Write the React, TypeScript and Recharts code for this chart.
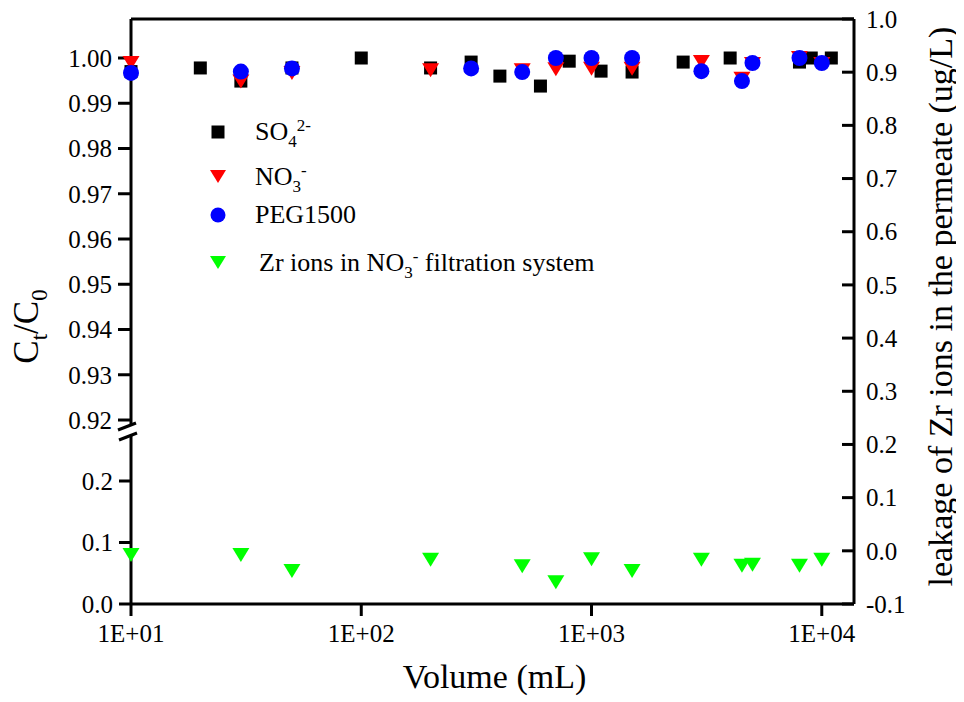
import React from 'react';
import { ScatterChart, Scatter, XAxis, YAxis, ReferenceLine, Legend, Label } from 'recharts';

// volumes (mL) and C/C0
const so4Volume = [10, 20, 30, 50, 100, 200, 300, 400, 600, 800, 1100, 1500, 2500, 4000, 8000, 9000, 11000];
const so4Ratio = [0.997, 0.9978, 0.9949, 0.9978, 1.0, 0.9978, 0.9991, 0.996, 0.9938, 0.9993, 0.9971, 0.9969, 0.9991, 1.0, 0.9991, 1.0, 1.0];

const no3Volume = [10, 30, 50, 200, 500, 700, 1000, 1500, 3000, 4500, 5000, 8000, 10000];
const no3Ratio = [0.9989, 0.9948, 0.9967, 0.9973, 0.9973, 0.9975, 0.9976, 0.9976, 0.9991, 0.9954, 0.9987, 1.0, 0.9987];

const pegVolume = [10, 30, 50, 300, 500, 700, 1000, 1500, 3000, 4500, 5000, 8000, 10000];
const pegRatio = [0.9967, 0.997, 0.9977, 0.9977, 0.9969, 1.0, 1.0, 1.0, 0.9971, 0.9949, 0.9989, 1.0, 0.9989];

// Zr leakage (ug/L), right axis
const zrVolume = [10, 30, 50, 200, 500, 700, 1000, 1500, 3000, 4500, 5000, 8000, 10000];
const zrLeak = [-0.008, -0.008, -0.038, -0.017, -0.029, -0.059, -0.016, -0.038, -0.017, -0.028, -0.026, -0.028, -0.017];

const xTicks = [10, 100, 1000, 10000];
const upperTicks = [0.92, 0.93, 0.94, 0.95, 0.96, 0.97, 0.98, 0.99, 1.0];
const lowerTicks = [0, 0.1, 0.2];
const rightTicks = [-0.1, 0, 0.1, 0.2, 0.3, 0.4, 0.5, 0.6, 0.7, 0.8, 0.9, 1.0];

const toPoints = (xs: number[], ys: number[]) => xs.map((x, i) => ({ x, y: ys[i] }));

const FONT = '"Liberation Serif", "Times New Roman", serif';
const tickStyle = { fontFamily: FONT, fontSize: 25, fill: '#000' };

const Square = (p: any) => <rect x={p.cx - 6.5} y={p.cy - 6.5} width={13} height={13} fill="#000" />;
const downTri = (color: string) => (p: any) => (
  <polygon points={`${p.cx - 8.5},${p.cy - 7} ${p.cx + 8.5},${p.cy - 7} ${p.cx},${p.cy + 7}`} fill={color} />
);
const Dot = (p: any) => <circle cx={p.cx} cy={p.cy} r={8} fill="#0000ff" />;

const RightTick = (props: any) => {
  const { x, y, payload } = props;
  return (
    <g>
      <line x1={x - 24} x2={x - 12} y1={y} y2={y} stroke="#000" strokeWidth={3} />
      <text x={x} y={y} dy="0.35em" textAnchor="start" style={tickStyle}>
        {Number(payload.value).toFixed(1)}
      </text>
    </g>
  );
};

const sub = { fontSize: 17, verticalAlign: '-0.4em', lineHeight: 0 } as const;
const sup = { fontSize: 17, verticalAlign: '0.55em', lineHeight: 0 } as const;

const legendRows = [
  { key: 'so4', top: 4, marker: <rect x={3.5} y={8.5} width={13} height={13} fill="#000" />, text: <>SO<span style={sub}>4</span><span style={sup}>2-</span></> },
  { key: 'no3', top: 49, marker: <polygon points="2,8 18,8 10,21" fill="#ff0000" />, text: <>NO<span style={sub}>3</span><span style={sup}>-</span></> },
  { key: 'peg', top: 87, marker: <circle cx={10} cy={15} r={7.5} fill="#0000ff" />, text: <>PEG1500</> },
  { key: 'zr', top: 135, marker: <polygon points="2,8 18,8 10,21" fill="#00ff00" />, text: <>Zr ions in NO<span style={sub}>3</span><span style={sup}>-</span> filtration system</> },
];

const renderLegend = () => (
  <div style={{ position: 'relative', width: 420, height: 170, fontFamily: FONT, fontSize: 26, color: '#000' }}>
    {legendRows.map((r) => (
      <div key={r.key} style={{ position: 'absolute', top: r.top, left: 0, height: 30, lineHeight: '30px', whiteSpace: 'nowrap' }}>
        <svg width={20} height={30} style={{ position: 'absolute', left: 5, top: 0 }}>{r.marker}</svg>
        <span style={{ position: 'absolute', left: r.key === 'zr' ? 56 : 52, top: 0 }}>{r.text}</span>
      </div>
    ))}
  </div>
);

export default function App() {
  return (
    <div style={{ position: 'relative', width: 956, height: 694, fontFamily: FONT }}>
      <ScatterChart width={956} height={694} margin={{ top: 11, right: 50, bottom: 68, left: 63 }}>
        <XAxis
          type="number"
          dataKey="x"
          scale="log"
          domain={[10, 13800]}
          ticks={xTicks}
          tickFormatter={(v: number) => `1E+0${Math.round(Math.log10(v))}`}
          tick={tickStyle}
          tickSize={12}
          tickMargin={8}
          height={30}
          axisLine={{ stroke: '#000', strokeWidth: 3 }}
          tickLine={{ stroke: '#000', strokeWidth: 3 }}
        >
          <Label
            content={(p: any) => {
              const vb = p.viewBox || { x: 123, y: 596, width: 723 };
              return (
                <text x={vb.x + vb.width / 2 + 2} y={vb.y + 84} textAnchor="middle" style={{ fontFamily: FONT, fontSize: 34, fill: '#000' }}>
                  Volume (mL)
                </text>
              );
            }}
          />
        </XAxis>
        <YAxis
          yAxisId="lower"
          type="number"
          dataKey="y"
          orientation="left"
          width={1}
          domain={[0, 0.9512]}
          allowDataOverflow
          ticks={lowerTicks}
          tickFormatter={(v: number) => v.toFixed(1)}
          tick={tickStyle}
          tickSize={12}
          tickMargin={6}
          axisLine={false}
          tickLine={{ stroke: '#000', strokeWidth: 3 }}
        />
        <YAxis
          yAxisId="upper"
          type="number"
          dataKey="y"
          orientation="left"
          width={59}
          domain={[0.87934, 1.00862]}
          ticks={upperTicks}
          tickFormatter={(v: number) => v.toFixed(2)}
          tick={tickStyle}
          tickSize={12}
          tickMargin={6}
          axisLine={false}
          tickLine={{ stroke: '#000', strokeWidth: 3 }}
        >
          <Label
            content={(p: any) => {
              const vb = p.viewBox || { x: 63, y: 11, height: 585 };
              const cx = 30;
              const cy = vb.y + vb.height / 2 + 15;
              return (
                <text x={cx} y={cy} transform={`rotate(-90, ${cx}, ${cy})`} textAnchor="middle" style={{ fontFamily: FONT, fontSize: 35, fill: '#000' }}>
                  C<tspan fontSize={23} dy={9}>t</tspan>
                  <tspan dy={-9}>/C</tspan>
                  <tspan fontSize={23} dy={9}>0</tspan>
                </text>
              );
            }}
          />
        </YAxis>
        <YAxis
          yAxisId="right"
          type="number"
          dataKey="y"
          orientation="right"
          width={60}
          domain={[-0.1, 1.0]}
          ticks={rightTicks}
          tick={<RightTick />}
          tickSize={0}
          tickMargin={12}
          axisLine={{ stroke: '#000', strokeWidth: 3 }}
          tickLine={false}
        >
          <Label
            content={(p: any) => {
              const vb = p.viewBox || { x: 846, y: 11, height: 585 };
              const cx = vb.x + 98;
              const cy = vb.y + vb.height / 2 - 5;
              return (
                <text x={cx} y={cy} transform={`rotate(-90, ${cx}, ${cy})`} textAnchor="middle" style={{ fontFamily: FONT, fontSize: 34, fill: '#000' }}>
                  leakage of Zr ions in the permeate (ug/L)
                </text>
              );
            }}
          />
        </YAxis>

        {/* frame: top line and the two pieces of the broken left axis */}
        <ReferenceLine yAxisId="right" y={1.0} stroke="#000" strokeWidth={3} />
        <ReferenceLine yAxisId="upper" segment={[{ x: 10, y: 0.91912 }, { x: 10, y: 1.00862 }]} stroke="#000" strokeWidth={3} ifOverflow="visible" />
        <ReferenceLine yAxisId="lower" segment={[{ x: 10, y: 0 }, { x: 10, y: 0.2748 }]} stroke="#000" strokeWidth={3} ifOverflow="visible" />

        {/* empty series so the lower (broken) part of the left axis gets a scale */}
        <Scatter name="lower" yAxisId="lower" data={[]} isAnimationActive={false} legendType="none" />
        <Scatter name="SO4" yAxisId="upper" data={toPoints(so4Volume, so4Ratio)} shape={Square} isAnimationActive={false} />
        <Scatter name="NO3" yAxisId="upper" data={toPoints(no3Volume, no3Ratio)} shape={downTri('#ff0000')} isAnimationActive={false} />
        <Scatter name="PEG1500" yAxisId="upper" data={toPoints(pegVolume, pegRatio)} shape={Dot} isAnimationActive={false} />
        <Scatter name="Zr" yAxisId="right" data={toPoints(zrVolume, zrLeak)} shape={downTri('#00ff00')} isAnimationActive={false} />

        <Legend
          layout="vertical"
          align="center"
          verticalAlign="middle"
          content={renderLegend}
          wrapperStyle={{ left: 195, top: 105, width: 420, height: 170 }}
        />
      </ScatterChart>
      {/* axis break marks */}
      <svg width={956} height={694} style={{ position: 'absolute', left: 0, top: 0, pointerEvents: 'none' }}>
        <line x1={110} y1={422} x2={128} y2={415} stroke="#000" strokeWidth={3} />
        <line x1={111} y1={432} x2={129} y2={425} stroke="#000" strokeWidth={3} />
      </svg>
    </div>
  );
}
